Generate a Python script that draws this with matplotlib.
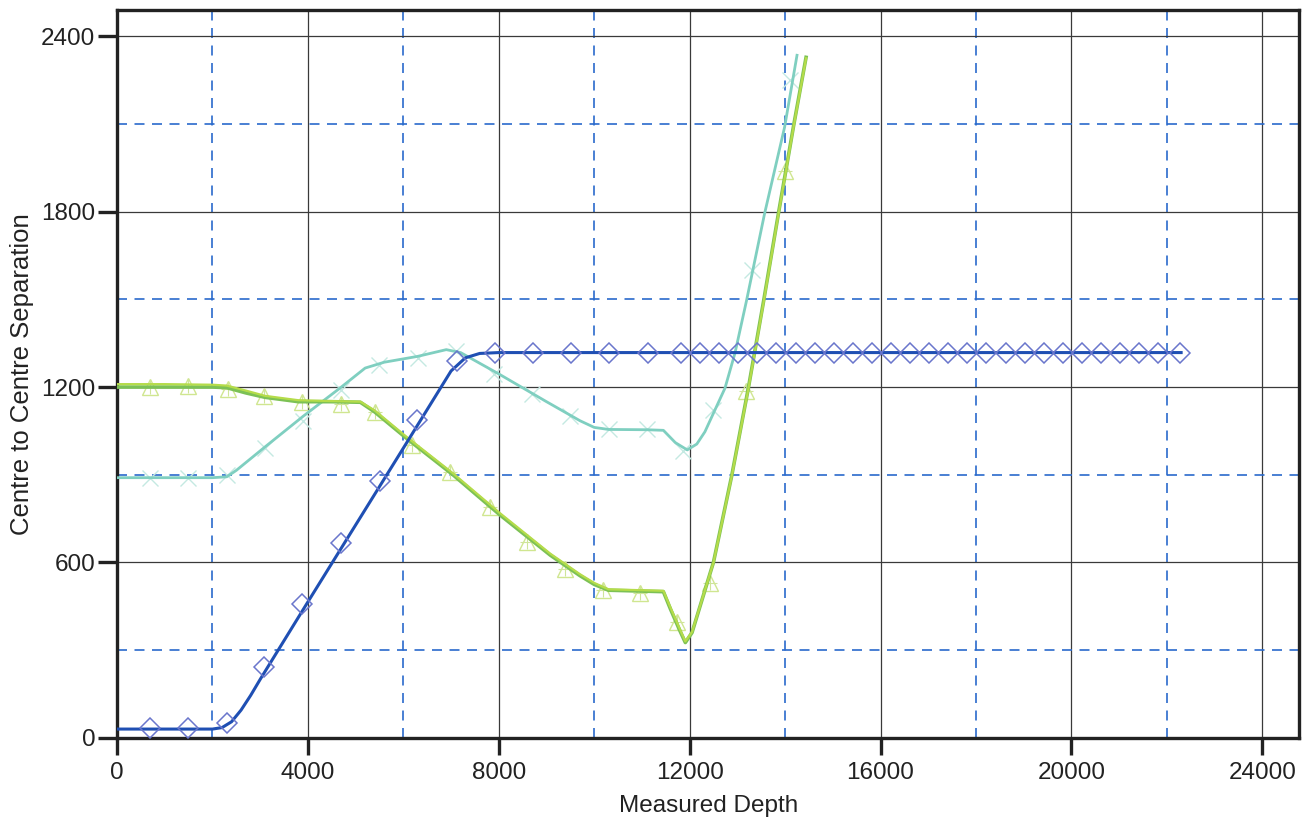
import matplotlib
matplotlib.use("Agg")
import matplotlib.pyplot as plt
import numpy as np

# ---- data ----
# blue well (line + diamond markers)
blue_x = [0, 1000, 2000, 2200, 2400, 2600, 2800, 3000, 4000, 5000, 6000, 7000, 7300, 7600, 8000, 22300]
blue_y = [30, 30, 30, 35, 55, 95, 145, 200, 465, 728, 991, 1255, 1300, 1315, 1318, 1318]
blue_mx = [690, 1490, 2310, 3080, 3880, 4700, 5510, 6290, 7130, 7920, 8720, 9520, 10310, 11130,
           11820, 12220, 12620, 13020, 13420, 13820, 14220, 14620, 15020, 15420, 15820, 16220,
           16620, 17020, 17420, 17820, 18220, 18620, 19020, 19420, 19820, 20220, 20620, 21020,
           21420, 21820, 22280]
blue_my = [34, 32, 50, 244, 457, 666, 879, 1089, 1288, 1315, 1318, 1318, 1318, 1318,
           1318, 1318, 1318, 1318, 1318, 1318, 1318, 1318, 1318, 1318, 1318, 1318,
           1318, 1318, 1318, 1318, 1318, 1318, 1318, 1318, 1318, 1318, 1318, 1318,
           1318, 1318, 1318]

# teal well (line + x markers)
teal_x = [0, 1000, 2000, 2300, 2500, 3100, 3900, 4700, 5200, 5600, 6300, 6900, 7200, 8000,
          9000, 9700, 10000, 10300, 11100, 11450, 11700, 11950, 12150, 12320, 12740, 12950,
          13190, 13570, 13990, 14250]
teal_y = [890, 890, 890, 893, 915, 995, 1100, 1200, 1265, 1285, 1305, 1328, 1318, 1245,
          1150, 1085, 1062, 1055, 1054, 1052, 1010, 985, 1005, 1047, 1196, 1316, 1494, 1793,
          2089, 2335]
teal_mx = [690, 1490, 2310, 3100, 3900, 4700, 5500, 6300, 7100, 7900, 8700, 9500, 10300, 11100,
           11870, 12500, 13300, 14100]
teal_my = [890, 890, 900, 990, 1085, 1190, 1275, 1300, 1325, 1245, 1175, 1100, 1055, 1055,
           980, 1120, 1600, 2250]

# green wells (two nearly coincident lines + triangle / plus markers)
green_x = [0, 1000, 2000, 2300, 2700, 3100, 3800, 4500, 5100, 5400, 6080, 7040, 8030, 9080,
           9700, 10000, 10300, 11000, 11450, 11600, 11800, 11910, 12050, 12500, 12880, 13230,
           13550, 13860, 14180, 14440]
green_y = [1200, 1200, 1200, 1198, 1180, 1165, 1150, 1150, 1148, 1115, 1023, 900, 762, 625,
           555, 525, 505, 502, 500, 440, 365, 326, 360, 601, 895, 1196, 1494, 1793, 2095, 2328]
green2_y = [1210, 1210, 1208, 1205, 1188, 1170, 1155, 1152, 1150, 1120, 1028, 905, 768, 630,
            560, 530, 508, 505, 503, 445, 370, 330, 362, 600, 893, 1193, 1490, 1790, 2092, 2325]
tri_x = [690, 1490, 2330, 3080, 3870, 4690, 5400, 6180, 6970, 7810, 8590, 9380, 10180, 10950,
         11730, 12420, 13190, 13990]
tri_y = [1200, 1202, 1192, 1168, 1150, 1143, 1116, 1003, 910, 790, 670, 577, 505, 497,
         395, 530, 1185, 1940]

# ---- figure ----
fig = plt.figure(figsize=(13.06, 8.18), dpi=100)
ax = fig.add_axes([0.0896, 0.098, 0.9054, 0.8898])

ax.plot(teal_x, teal_y, color="#7fcfc0", lw=2.0, zorder=3)
ax.plot(teal_mx, teal_my, ls="none", marker="x", ms=12, mew=1.0, color="#c4e9e2", zorder=2)

ax.plot(green_x, green_y, color="#7cc155", lw=2.6, zorder=4)
ax.plot(green_x, green2_y, color="#b5dc4a", lw=1.6, zorder=4)
ax.plot(tri_x, tri_y, ls="none", marker="^", ms=11, mfc="none", mec="#d0e690", mew=1.0, zorder=2)
ax.plot(tri_x, tri_y, ls="none", marker="+", ms=10, mew=0.8, color="#cfe59a", zorder=2)

ax.plot(blue_x, blue_y, color="#1f4fb3", lw=2.2, zorder=5)
ax.plot(blue_mx, blue_my, ls="none", marker="D", ms=10, mfc="none", mec="#6a76cc", mew=1.1, zorder=6)

# ---- axes, grids ----
ax.set_xlim(0, 24780)
ax.set_ylim(0, 2490)
ax.set_xticks(np.arange(0, 24001, 4000))
ax.set_yticks(np.arange(0, 2401, 600))
ax.set_xticks(np.arange(2000, 24001, 4000), minor=True)
ax.set_yticks(np.arange(300, 2401, 600), minor=True)
ax.grid(which="major", color="#3a3a3a", lw=0.9, ls="-", zorder=0)
ax.grid(which="minor", color="#2a6acc", lw=1.2, ls=(0, (6, 4.5)), zorder=0)
ax.tick_params(which="major", direction="out", width=2.4, labelsize=17.5, colors="#222222")
ax.tick_params(axis="x", which="major", length=12.5, pad=5)
ax.tick_params(axis="y", which="major", length=14, pad=1.5)
ax.tick_params(which="minor", length=0)
for s in ax.spines.values():
    s.set_linewidth(2.4)
    s.set_color("#222222")

ax.set_xlabel("Measured Depth", fontsize=17.5, family=["Liberation Sans", "DejaVu Sans"],
              color="#222222", labelpad=8)
ax.set_ylabel("Centre to Centre Separation", fontsize=18.5,
              family=["Liberation Sans", "DejaVu Sans"], color="#222222", labelpad=5)
for lab in ax.get_xticklabels() + ax.get_yticklabels():
    lab.set_family(["Liberation Sans", "DejaVu Sans"])

fig.savefig("out.png", dpi=100)
